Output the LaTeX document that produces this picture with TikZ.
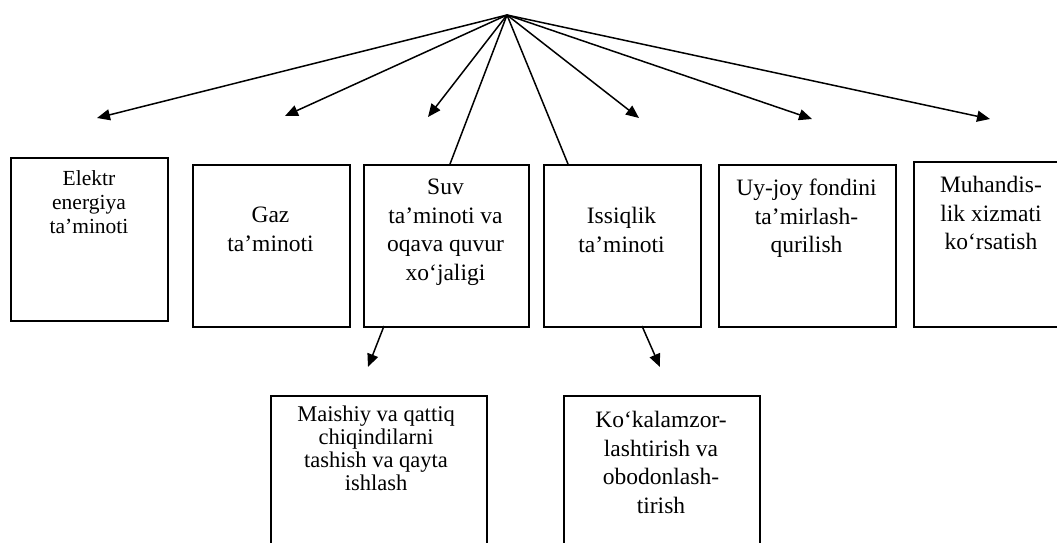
\documentclass[tikz,border=0pt]{standalone}
\usepackage{fontspec}
\setmainfont{Liberation Serif}
\usetikzlibrary{arrows.meta}
\begin{document}
\begin{tikzpicture}[x=1pt,y=-1pt,
  box/.style={draw, line width=1.8pt, inner sep=0pt, anchor=north west},
  lbl/.style={align=center, inner sep=0pt, anchor=north, font=\fontsize{23.5}{28.5}\selectfont},
  lblsm/.style={lbl, font=\fontsize{21.5}{24}\selectfont},
  lbltight/.style={lbl, font=\fontsize{22.5}{23}\selectfont},
  link/.style={line width=1.5pt},
  arr/.style={link, -{Triangle[length=13pt,width=11pt]}}]
\useasboundingbox (0,0) rectangle (1057,542);
\fill[white] (0,0) rectangle (1057,542);
\clip (0,0) rectangle (1057,542);

% top-level boxes
\node[box, minimum width=157pt, minimum height=163pt] (elektr) at (10,157) {};
\node[box, minimum width=157pt, minimum height=162pt] (gaz) at (192,164) {};
\node[box, minimum width=165pt, minimum height=162pt] (suv) at (363,164) {};
\node[box, minimum width=157pt, minimum height=162pt] (issiq) at (543,164) {};
\node[box, minimum width=177pt, minimum height=162pt] (uyjoy) at (718,164) {};
\node[box, minimum width=156pt, minimum height=165pt] (muhand) at (913,161) {};
% second-level boxes
\node[box, minimum width=216pt, minimum height=170pt] (maishiy) at (270,395) {};
\node[box, minimum width=196pt, minimum height=170pt] (kokal) at (563,395) {};

% labels
\node[lblsm] (telektr) at (89,170) {Elektr\\energiya\\ta’minoti};
\node[lbl] (tgaz) at (270.5,207) {Gaz\\ta’minoti};
\node[lbl] (tsuv) at (445.5,179) {Suv\\ta’minoti va\\oqava quvur\\xo‘jaligi};
\node[lbl] (tissiq) at (621.5,207) {Issiqlik\\ta’minoti};
\node[lbl] (tuyjoy) at (806.5,179) {Uy-joy fondini\\ta’mirlash-\\qurilish};
\node[lbl] (tmuhand) at (991,176) {Muhandis-\\lik xizmati\\ko‘rsatish};
\node[lbltight] (tmaishiy) at (376,406) {Maishiy va qattiq\\chiqindilarni\\tashish va qayta\\ishlash};
\node[lbl] (tkokal) at (661,411) {Ko‘kalamzor-\\lashtirish va\\obodonlash-\\tirish};

% fan of connectors
\coordinate (apex) at (507,15);
\coordinate (e1) at (97,118);
\coordinate (e2) at (285,116);
\coordinate (e3) at (428,117);
\coordinate (e4) at (639,118);
\coordinate (e5) at (812,119);
\coordinate (e6) at (990,119);
\coordinate (suvtop) at (450,164);
\coordinate (issiqtop) at (568,164);
\draw[arr] (apex) -- (e1);
\draw[arr] (apex) -- (e2);
\draw[arr] (apex) -- (e3);
\draw[arr] (apex) -- (e4);
\draw[arr] (apex) -- (e5);
\draw[arr] (apex) -- (e6);
\draw[link] (apex) -- (suvtop);
\draw[link] (apex) -- (issiqtop);

% arrows below
\coordinate (suvbot) at (384,326);
\coordinate (d1) at (368,367);
\coordinate (issiqbot) at (642,326);
\coordinate (d2) at (660,367);
\draw[arr] (suvbot) -- (d1);
\draw[arr] (issiqbot) -- (d2);
\end{tikzpicture}
\end{document}
